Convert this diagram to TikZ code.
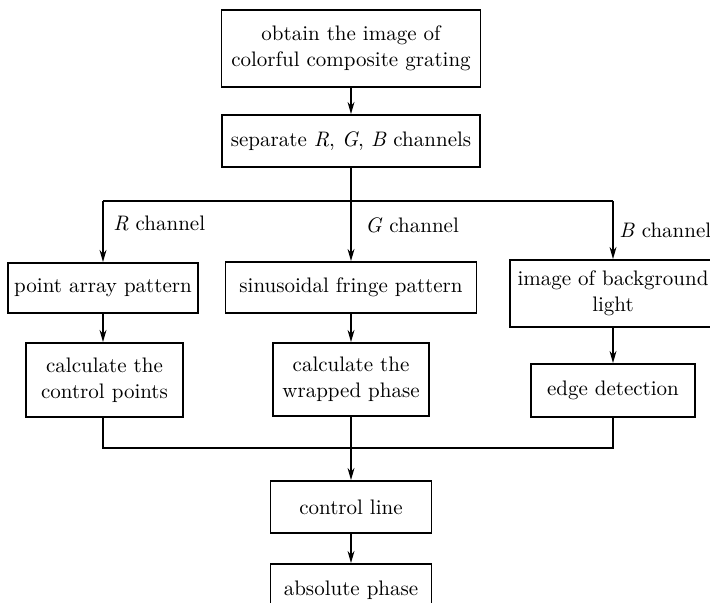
\documentclass[tikz,border=0pt]{standalone}
\usetikzlibrary{arrows.meta}
\begin{document}
\begin{tikzpicture}[x=0.5pt,y=-0.5pt,
  every node/.style={font=\fontsize{10.5}{13}\selectfont},
  box/.style={draw, line width=0.9pt, minimum width=#1, inner sep=0pt, align=center},
  conn/.style={line width=0.9pt},
  arr/.style={conn, -{Stealth[length=6pt,width=3.4pt,inset=1.8pt]}},
  lab/.style={anchor=west, inner sep=0pt}]
\clip (0,0) rectangle (710,603);
\fill[white] (0,0) rectangle (710,603);
% boxes
\node[box=129.5pt, minimum height=38.5pt] (b1) at (351,48.5) {obtain the image of\\colorful composite grating};
\node[box=129pt, minimum height=26pt] (b2) at (351,141) {separate \textit{R}, \textit{G}, \textit{B} channels};
\node[box=95pt, minimum height=25pt] (pa) at (103,288) {point array pattern};
\node[box=125.5pt, minimum height=25.5pt] (sf) at (351,287.5) {sinusoidal fringe pattern};
\node[box=103pt, minimum height=33.5pt] (bg) at (613,293.5) {image of background\\light};
\node[box=78.5pt, minimum height=37pt] (cp) at (104.5,380) {calculate the\\control points};
\node[box=78pt, minimum height=36.5pt] (wp) at (351,379.5) {calculate the\\wrapped phase};
\node[box=82pt, minimum height=26.5pt] (ed) at (613,390.5) {edge detection};
\node[box=80.5pt, minimum height=26pt] (cl) at (351,507) {control line};
\node[box=80.5pt, minimum height=26pt] (ap) at (351,590) {absolute phase};
% labels
\node[lab] (lr) at (113,223) {\textit{R} channel};
\node[lab] (lg) at (365,225) {\textit{G} channel};
\node[lab] (lb) at (619,230) {\textit{B} channel};
% junctions
\coordinate (jl) at (103,201);
\coordinate (jm) at (351,201);
\coordinate (jr) at (613,201);
\coordinate (ml) at (103,448);
\coordinate (mr) at (613,448);
% connectors
\draw[arr] (b1.south) -- (b2.north);
\draw[conn] (b2.south) -- (jm);
\draw[conn] (jl) -- (jr);
\draw[arr] (jl) -- (pa.north);
\draw[arr] (jm) -- (sf.north);
\draw[arr] (jr) -- (bg.north);
\draw[arr] (pa.south) -- (pa.south |- cp.north);
\draw[arr] (sf.south) -- (wp.north);
\draw[arr] (bg.south) -- (ed.north);
\draw[conn] (cp.south -| ml) -- (ml) -- (mr) -- (ed.south);
\draw[arr] (wp.south) -- (cl.north);
\draw[arr] (cl.south) -- (ap.north);
\end{tikzpicture}
\end{document}
